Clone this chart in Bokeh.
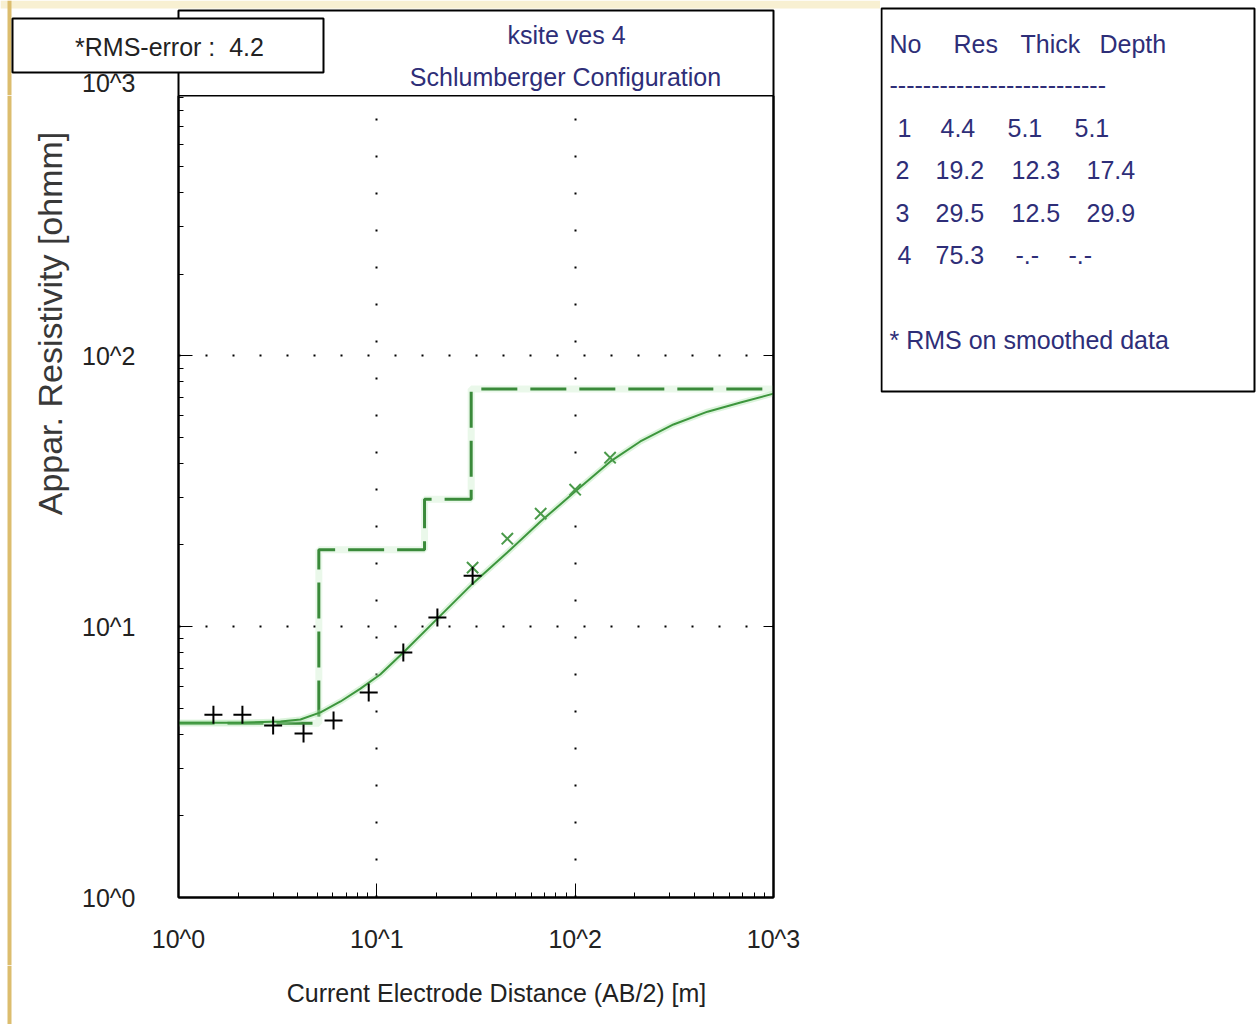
from bokeh.plotting import figure
from bokeh.layouts import column, row
from bokeh.models import Range1d, LogAxis, FixedTicker, CustomJSTickFormatter
from bokeh.core.properties import value
from bokeh.embed import file_html
from bokeh.resources import INLINE

# ---- VES sounding data (AB/2 in m, apparent resistivity in ohm-m) ----
field_ab2 = [1.5, 2.1, 3.0, 4.27, 6.05, 9.1, 13.6, 20.2, 30.4]
field_rho = [4.73, 4.73, 4.31, 4.03, 4.5, 5.71, 8.02, 10.8, 15.4]

smooth_ab2 = [30.4, 45.5, 67.0, 100.0, 150.0]
smooth_rho = [16.5, 21.1, 26.1, 32.0, 42.0]

# computed response of the layered model
curve_ab2 = [1.0, 2.05, 3.27, 4.12, 5.2, 6.56, 8.27, 10.4, 13.6, 20.2, 30.4,
             45.6, 66.9, 100.0, 150.0, 213.0, 313.0, 465.0, 682.0, 1000.0]
curve_rho = [4.42, 4.42, 4.46, 4.54, 4.82, 5.29, 5.9, 6.65, 8.02, 10.7, 14.4,
             18.8, 24.4, 31.5, 40.6, 48.2, 55.7, 62.1, 67.1, 72.4]

# layered earth model
layer_no = [1, 2, 3, 4]
layer_res = [4.4, 19.2, 29.5, 75.3]
layer_thick = [5.1, 12.3, 12.5]
layer_depth = [5.1, 17.4, 29.9]
rms_error = 4.2

survey = "ksite ves 4"
config = "Schlumberger Configuration"
decades = [1, 10, 100, 1000]

FONT = "Liberation Sans"
NAVY = "#2e2e78"
INK = "#222222"
TAN = "#dcbd6e"
CREAM = "#f8f0d2"
NBSP = "\u00a0"

# page geometry (pixels)
W, H = 1258, 1024
LEFT_W = 880          # width of the chart column, table panel to its right
TOP_H = 95            # title strip above the plot frame
BOT_H = 59            # strip holding the x-axis title
YT_W = 75             # strip holding the y-axis title
FL, FR, FB = 178, 773, 897   # plot frame left/right/bottom on the page


def panel(x0, x1, y0, y1):
    """A bare figure whose data space is page pixels (y grows downward)."""
    f = figure(width=x1 - x0, height=y1 - y0,
               x_range=Range1d(x0, x1), y_range=Range1d(y1, y0),
               output_backend="svg", toolbar_location=None, title=None,
               x_axis_location=None, y_axis_location=None,
               min_border=0, outline_line_color=None)
    f.xgrid.visible = False
    f.ygrid.visible = False
    f.background_fill_color = "white"
    f.border_fill_color = "white"
    return f


def rect(f, l, t, r, b, fill="white", line="black", lw=2):
    f.quad(left=[l], right=[r], top=[t], bottom=[b], fill_color=fill,
           line_color=line, line_width=lw)


def text(f, xs, ys, ss, size="25px", color=NAVY, align="left", angle=0, font=FONT):
    f.text(x=xs, y=ys, text=ss, text_font=value(font), text_font_size=value(size),
           text_color=color, text_align=align, text_baseline="middle",
           angle=angle, angle_units="deg")


def window_edge(f, y0, y1):
    f.quad(left=[7], right=[11], top=[y0], bottom=[y1], fill_color=TAN, line_color=None)


# ---------------- main log-log plot ----------------
main_h = H - TOP_H - BOT_H
p = figure(width=LEFT_W - YT_W, height=main_h, x_axis_type="log", y_axis_type="log",
           x_range=Range1d(1, 1000), y_range=Range1d(1, 10 ** 2.96),
           output_backend="svg", toolbar_location=None, title=None,
           min_border_left=FL - YT_W, min_border_right=LEFT_W - FR,
           min_border_top=0, min_border_bottom=TOP_H + main_h - FB)
p.background_fill_color = "white"
p.border_fill_color = "white"
p.outline_line_color = "black"
p.outline_line_width = 2

minor = [m * d for d in decades[:-1] for m in range(2, 10)]
ticker = FixedTicker(ticks=decades, minor_ticks=minor)
fmt = CustomJSTickFormatter(code="return '10^' + Math.round(Math.log10(tick));")

for ax in (p.xaxis[0], p.yaxis[0]):
    ax.ticker = ticker
    ax.formatter = fmt
    ax.axis_line_width = 2
    ax.axis_line_color = "black"
    ax.major_tick_in = 14
    ax.major_tick_out = 0
    ax.minor_tick_in = 5
    ax.minor_tick_out = 0
    ax.major_tick_line_color = "black"
    ax.minor_tick_line_color = "black"
    ax.major_label_text_font = FONT
    ax.major_label_text_font_size = "25px"
    ax.major_label_text_color = INK
p.xaxis.major_label_standoff = 27
p.yaxis.major_label_standoff = 43
p.yaxis.major_label_orientation = "horizontal"

right = LogAxis(ticker=FixedTicker(ticks=decades, minor_ticks=[]),
                major_label_text_color=None, major_tick_in=10, major_tick_out=0,
                axis_line_width=2)
p.add_layout(right, "right")

p.xgrid.ticker = ticker
p.ygrid.ticker = ticker
p.xgrid.grid_line_color = "black"
p.xgrid.grid_line_width = 2
p.xgrid.grid_line_dash = "2 35"
p.ygrid.grid_line_color = "black"
p.ygrid.grid_line_width = 2
p.ygrid.grid_line_dash = "2 25"

# layered model as a step profile
step_x, step_y = [], []
for i, r in enumerate(layer_res):
    top = 1 if i == 0 else layer_depth[i - 1]
    bot = layer_depth[i] if i < len(layer_depth) else 1000
    step_x += [top, bot]
    step_y += [r, r]
p.line(step_x, step_y, line_color="#c4eac4", line_width=7, line_alpha=0.35)
p.line(step_x, step_y, line_color="#3a8a3a", line_width=3, line_dash="36 13")

# model response
p.line(curve_ab2, curve_rho, line_color="#a8e4a8", line_width=6, line_alpha=0.4)
p.line(curve_ab2, curve_rho, line_color="#3d963d", line_width=2)

# smoothed and field data
p.scatter(smooth_ab2, smooth_rho, marker="x", size=16, line_color="#4a9a4a", line_width=2)
p.scatter(field_ab2, field_rho, marker="cross", size=18, line_color="black", line_width=2)

# ---------------- strip above the plot ----------------
top = panel(0, LEFT_W, 0, TOP_H)
top.quad(left=[0], right=[LEFT_W], top=[0], bottom=[8], fill_color=CREAM, line_color=None)
window_edge(top, 0, TOP_H)
rect(top, FL, 10, FR, TOP_H + 1)
text(top, [566, 565], [34, 76], [survey, config], align="center")
rect(top, 12, 18, 323, 72)
text(top, [169], [46], ["*RMS-error :" + NBSP * 2 + "%.1f" % rms_error], color=INK,
     align="center")
text(top, [135], [82], ["10^%d" % 3], color=INK, align="right")

# ---------------- y-axis title strip ----------------
ytl = panel(0, YT_W, TOP_H, TOP_H + main_h)
window_edge(ytl, TOP_H, TOP_H + main_h)
text(ytl, [49], [323], ["Appar. Resistivity [ohmm]"], size="34px", color="#383838",
     align="center", angle=90)

# ---------------- x-axis title strip ----------------
bot = panel(0, LEFT_W, H - BOT_H, H)
window_edge(bot, H - BOT_H, H)
text(bot, [496], [992], ["Current Electrode Distance (AB/2) [m]"], color=INK, align="center")

# ---------------- model table ----------------
tab = panel(LEFT_W, W, 0, H)
rect(tab, 881, 8, 1254, 391)
text(tab, [889, 953, 1020, 1099], [43] * 4, ["No", "Res", "Thick", "Depth"])
text(tab, [889], [84], ["-" * 26])
row_y = [127, 169, 212, 254]
row_x = [[897, 940, 1007, 1074], [895, 935, 1011, 1086],
         [895, 935, 1011, 1086], [897, 935, 1015, 1068]]
for i, n in enumerate(layer_no):
    cells = [str(n), "%.1f" % layer_res[i],
             "%.1f" % layer_thick[i] if i < len(layer_thick) else "-.-",
             "%.1f" % layer_depth[i] if i < len(layer_depth) else "-.-"]
    text(tab, row_x[i], [row_y[i]] * 4, cells)
text(tab, [889], [339], ["* RMS on smoothed data"])

layout = row(column(top, row(ytl, column(p)), bot), tab)
open("out.html", "w").write(file_html(layout, INLINE))
